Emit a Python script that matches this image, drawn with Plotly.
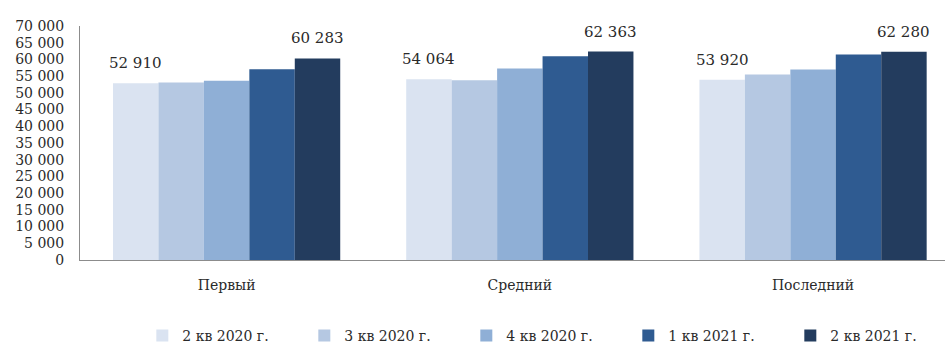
import plotly.graph_objects as go

# Groups and quarterly series
categories = ["Первый", "Средний", "Последний"]
series_names = ["2 кв 2020 г.", "3 кв 2020 г.", "4 кв 2020 г.", "1 кв 2021 г.", "2 кв 2021 г."]
q2_2020 = [52910, 54064, 53920]
q3_2020 = [53100, 53800, 55500]
q4_2020 = [53650, 57300, 57000]
q1_2021 = [57050, 60950, 61450]
q2_2021 = [60283, 62363, 62280]
series_values = [q2_2020, q3_2020, q4_2020, q1_2021, q2_2021]
labelled_series = [0, 4]  # series whose values are printed above the bars
y_ticks = list(range(0, 70001, 5000))

colors = ["#dae3f1", "#b5c8e2", "#8fafd6", "#2f5b91", "#233c5e"]
font_family = "DejaVu Serif"
text_color = "#2a2a2a"
bargap = 0.225

fig = go.Figure()
for name, vals, col in zip(series_names, series_values, colors):
    fig.add_trace(go.Bar(
        x=list(range(len(categories))), y=vals, name=name,
        marker=dict(color=col, line=dict(width=0)),
    ))

# Value labels, placed over the centre of their bar inside the group
n = len(series_values)
bar_w = (1 - bargap) / n
for k in labelled_series:
    offset = -(1 - bargap) / 2 + bar_w * (k + 0.5)
    for i, v in enumerate(series_values[k]):
        fig.add_annotation(
            x=i + offset, y=v, text=f"{v:,}".replace(",", " "),
            showarrow=False, yanchor="middle", yshift=20,
            font=dict(family=font_family, size=15, color=text_color),
        )

fig.update_layout(
    width=945, height=347,
    margin=dict(l=80, r=0, t=26, b=87),
    paper_bgcolor="white", plot_bgcolor="white",
    barmode="group", bargap=bargap, bargroupgap=0,
    separators=", ",
    font=dict(family=font_family, color=text_color),
    showlegend=True,
    legend=dict(
        orientation="h", xref="container", yref="container",
        x=0.1506, y=1 - 336 / 347, xanchor="left", yanchor="middle",
        entrywidth=117, entrywidthmode="pixels",
        font=dict(family=font_family, size=14, color=text_color),
        itemclick=False,
    ),
    xaxis=dict(
        range=[-0.5, 2.45], tickmode="array",
        tickvals=list(range(len(categories))), ticktext=categories,
        showline=True, linecolor="#8c8c8c", linewidth=1,
        showgrid=False, zeroline=False, ticks="",
        tickfont=dict(family=font_family, size=14, color=text_color),
        ticklabelstandoff=12,
    ),
    yaxis=dict(
        range=[0, 70000], tickmode="array", tickvals=y_ticks,
        ticktext=[f"{t:,}".replace(",", " ") for t in y_ticks],
        showline=True, linecolor="#8c8c8c", linewidth=1,
        showgrid=False, zeroline=False, ticks="",
        tickfont=dict(family=font_family, size=14, color=text_color),
        ticklabelstandoff=12,
    ),
)

fig.write_html("out.html")
